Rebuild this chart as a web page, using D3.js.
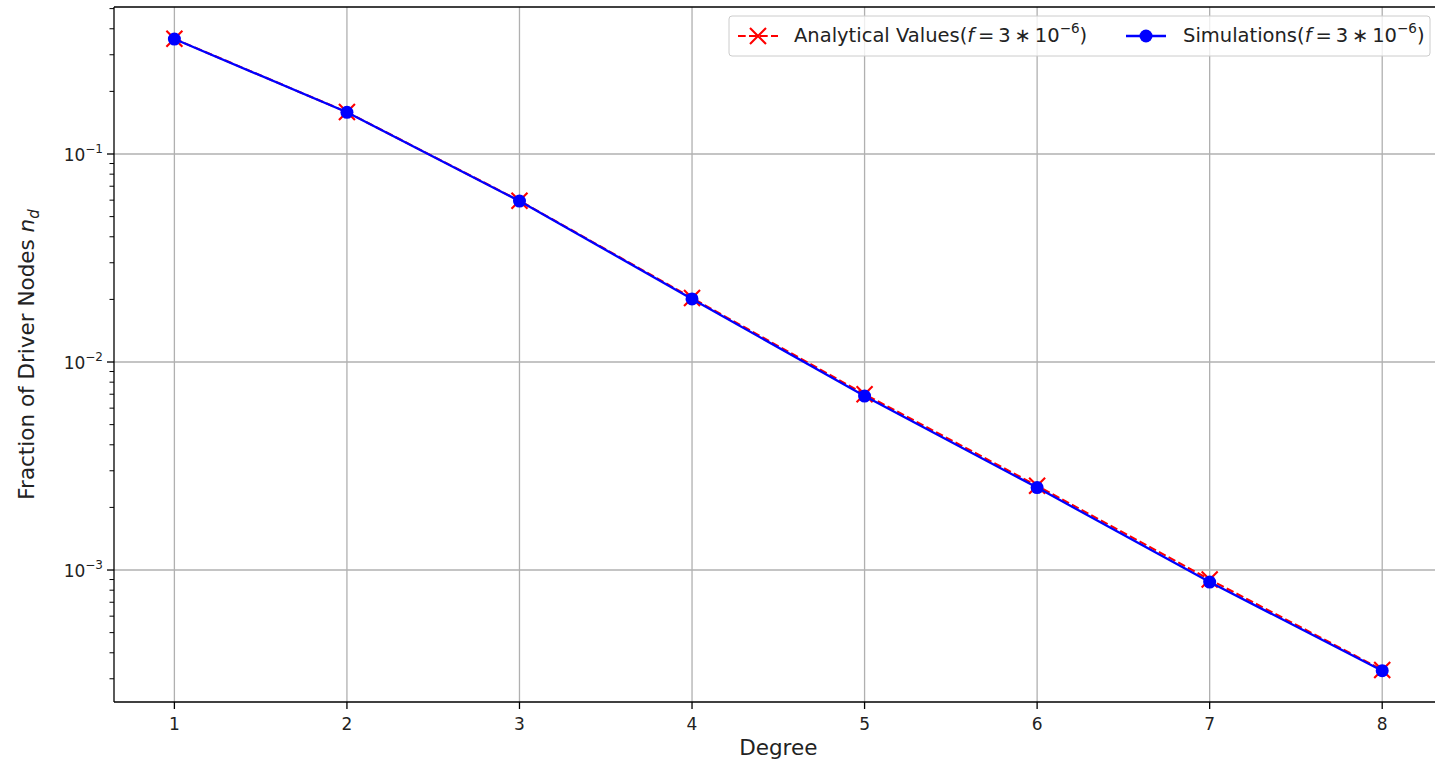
<!DOCTYPE html>
<html>
<head>
<meta charset="utf-8">
<script src="https://cdn.jsdelivr.net/npm/d3@7"></script>
<style>
body { margin: 0; background: #fff; }
svg { font-family: "DejaVu Sans", sans-serif; }
</style>
</head>
<body>
<svg id="chart" width="1435" height="761"></svg>
<script>
// degrees on the x axis
var degrees = [1, 2, 3, 4, 5, 6, 7, 8];
// fraction of driver nodes
var analytical = [0.358, 0.159, 0.0596, 0.0203, 0.00700, 0.00254, 0.000900, 0.000331];
var simulations = [0.357, 0.1587, 0.0594, 0.0201, 0.00686, 0.00249, 0.000875, 0.000328];
var xTicks = [1, 2, 3, 4, 5, 6, 7, 8];
var yMajor = [1e-3, 1e-2, 1e-1];
var yExp = ["\u22123", "\u22122", "\u22121"];

function draw_chart() {
    var svg = d3.select("#chart");
    var mLeft = 114, mTop = 7, mBottom = 702, mRight = 1442.6;

    var xscale = d3.scaleLinear().domain([0.65, 8.35]).range([mLeft, mRight]);
    var yscale = d3.scaleLog().domain([2.32e-4, 0.509]).range([mBottom, mTop]);

    var plot = svg.append("g");

    // grid
    plot.selectAll(".vgrid").data(xTicks).enter().append("line")
        .attr("x1", function(d){ return xscale(d); }).attr("x2", function(d){ return xscale(d); })
        .attr("y1", mTop).attr("y2", mBottom)
        .attr("stroke", "#b0b0b0").attr("stroke-width", 1.3);
    plot.selectAll(".hgrid").data(yMajor).enter().append("line")
        .attr("x1", mLeft).attr("x2", mRight)
        .attr("y1", function(d){ return yscale(d); }).attr("y2", function(d){ return yscale(d); })
        .attr("stroke", "#b0b0b0").attr("stroke-width", 1.3);

    // lines
    var line = d3.line()
        .x(function(d, i){ return xscale(degrees[i]); })
        .y(function(d){ return yscale(d); });

    plot.append("path").datum(analytical)
        .attr("d", line).attr("fill", "none")
        .attr("stroke", "#ff0000").attr("stroke-width", 2.1)
        .attr("stroke-dasharray", "7.7,3.3");

    // red x markers
    var xs = 8;
    plot.selectAll(".xmark").data(analytical).enter().append("path")
        .attr("d", function(d, i){
            var cx = xscale(degrees[i]), cy = yscale(d);
            return "M" + (cx - xs) + "," + (cy - xs) + "L" + (cx + xs) + "," + (cy + xs) +
                   "M" + (cx - xs) + "," + (cy + xs) + "L" + (cx + xs) + "," + (cy - xs);
        })
        .attr("stroke", "#ff0000").attr("stroke-width", 2.1).attr("fill", "none");

    plot.append("path").datum(simulations)
        .attr("d", line).attr("fill", "none")
        .attr("stroke", "#0000ff").attr("stroke-width", 2.3);

    plot.selectAll(".dot").data(simulations).enter().append("circle")
        .attr("cx", function(d, i){ return xscale(degrees[i]); })
        .attr("cy", function(d){ return yscale(d); })
        .attr("r", 6.5).attr("fill", "#0000ff");

    // spines
    svg.append("line").attr("x1", mLeft).attr("x2", mLeft).attr("y1", mTop).attr("y2", mBottom)
        .attr("stroke", "#000").attr("stroke-width", 1.3);
    svg.append("line").attr("x1", mLeft).attr("x2", 1435).attr("y1", mBottom).attr("y2", mBottom)
        .attr("stroke", "#000").attr("stroke-width", 1.3);
    svg.append("line").attr("x1", mLeft).attr("x2", 1435).attr("y1", mTop).attr("y2", mTop)
        .attr("stroke", "#000").attr("stroke-width", 1.3);

    // x ticks
    var xg = svg.append("g");
    xg.selectAll("line").data(xTicks).enter().append("line")
        .attr("x1", function(d){ return xscale(d); }).attr("x2", function(d){ return xscale(d); })
        .attr("y1", mBottom).attr("y2", mBottom + 7)
        .attr("stroke", "#000").attr("stroke-width", 1.3);
    xg.selectAll("text").data(xTicks).enter().append("text")
        .attr("x", function(d){ return xscale(d); })
        .attr("y", mBottom + 28)
        .attr("text-anchor", "middle").attr("font-size", 17).attr("fill", "#222")
        .text(function(d){ return d; });

    // y minor ticks
    var minor = [];
    for (var e = -4; e <= -1; e++) {
        for (var m = 2; m <= 9; m++) {
            var v = m * Math.pow(10, e);
            if (v >= yscale.domain()[0] && v <= yscale.domain()[1]) minor.push(v);
        }
    }
    svg.append("g").selectAll("line").data(minor).enter().append("line")
        .attr("x1", mLeft - 4.5).attr("x2", mLeft)
        .attr("y1", function(d){ return yscale(d); }).attr("y2", function(d){ return yscale(d); })
        .attr("stroke", "#000").attr("stroke-width", 1);

    var yg = svg.append("g");
    yg.selectAll("line").data(yMajor).enter().append("line")
        .attr("x1", mLeft - 7).attr("x2", mLeft)
        .attr("y1", function(d){ return yscale(d); }).attr("y2", function(d){ return yscale(d); })
        .attr("stroke", "#000").attr("stroke-width", 1.3);
    var ylab = yg.selectAll("text").data(yMajor).enter().append("text")
        .attr("x", mLeft - 11)
        .attr("y", function(d){ return yscale(d) + 7; })
        .attr("text-anchor", "end")
        .attr("font-size", 17).attr("fill", "#222");
    ylab.append("tspan").text("10");
    ylab.append("tspan").attr("dy", -8).attr("font-size", 12)
        .text(function(d, i){ return yExp[i]; });

    // axis labels
    svg.append("text").attr("x", xscale(4.5)).attr("y", 755)
        .attr("text-anchor", "middle").attr("font-size", 21.5).attr("fill", "#222")
        .text("Degree");
    var yl = svg.append("text")
        .attr("transform", "translate(34," + ((mTop + mBottom) / 2) + ") rotate(-90)")
        .attr("text-anchor", "middle").attr("font-size", 21.5).attr("fill", "#222");
    yl.append("tspan").text("Fraction of Driver Nodes ");
    yl.append("tspan").attr("font-style", "italic").text("n");
    yl.append("tspan").attr("font-style", "italic").attr("font-size", 15).attr("dy", 5).text("d");

    // legend
    var lg = svg.append("g");
    lg.append("rect").attr("x", 729).attr("y", 16).attr("width", 701).attr("height", 40)
        .attr("rx", 3).attr("fill", "#fff").attr("fill-opacity", 0.8)
        .attr("stroke", "#cccccc").attr("stroke-width", 1);

    function legendText(x, label) {
        var t = lg.append("text").attr("x", x).attr("y", 42).attr("font-size", 19.5).attr("fill", "#222");
        t.append("tspan").text(label + "(");
        t.append("tspan").attr("font-style", "italic").text("f");
        t.append("tspan").text("\u2009=\u20093\u2009\u2217\u200910");
        t.append("tspan").attr("dy", -9).attr("font-size", 13.5).text("\u22126");
        t.append("tspan").attr("dy", 9).text(")");
    }
    // analytical entry
    lg.append("line").attr("x1", 738).attr("x2", 778).attr("y1", 36).attr("y2", 36)
        .attr("stroke", "#ff0000").attr("stroke-width", 2.1).attr("stroke-dasharray", "7.7,3.3");
    lg.append("path").attr("d", "M750,28L766,44M750,44L766,28")
        .attr("stroke", "#ff0000").attr("stroke-width", 2.1);
    legendText(794, "Analytical Values");
    // simulation entry
    lg.append("line").attr("x1", 1126).attr("x2", 1166).attr("y1", 36).attr("y2", 36)
        .attr("stroke", "#0000ff").attr("stroke-width", 2.3);
    lg.append("circle").attr("cx", 1146).attr("cy", 36).attr("r", 6.5).attr("fill", "#0000ff");
    legendText(1183, "Simulations");
}
draw_chart();
</script>
</body>
</html>
